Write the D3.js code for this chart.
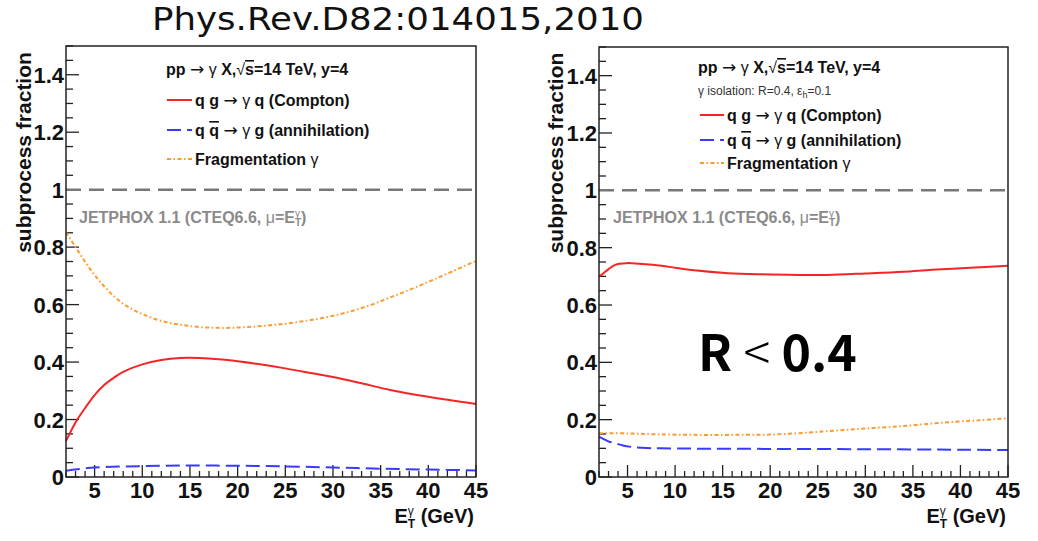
<!DOCTYPE html>
<html>
<head>
<meta charset="utf-8">
<script src="https://cdn.jsdelivr.net/npm/d3@7"></script>
<style>
  body { margin: 0; background: #fff; }
  svg text { white-space: pre; }
</style>
</head>
<body>
<svg id="chart" width="1038" height="541"></svg>
<script>
// ---- data ----
const yTickValues = [0, 0.2, 0.4, 0.6, 0.8, 1, 1.2, 1.4]
const yTickLabels = ["0", "0.2", "0.4", "0.6", "0.8", "1", "1.2", "1.4"]
const xTickValues = [5, 10, 15, 20, 25, 30, 35, 40, 45]
const xTickLabels = ["5", "10", "15", "20", "25", "30", "35", "40", "45"]

// left panel (no isolation)
const comptonLeftX = [2, 3, 4, 5, 6, 7, 8, 10, 12, 14, 16, 18, 20, 22, 25, 28, 30, 33, 36, 40, 45]
const comptonLeftY = [0.125, 0.19, 0.24, 0.285, 0.32, 0.345, 0.366, 0.392, 0.407, 0.414, 0.414, 0.41, 0.403, 0.394, 0.378, 0.36, 0.348, 0.326, 0.303, 0.279, 0.254]
const annihLeftX = [2, 5, 10, 15, 20, 25, 30, 35, 40, 45]
const annihLeftY = [0.022, 0.033, 0.038, 0.040, 0.039, 0.037, 0.033, 0.029, 0.026, 0.023]
const fragLeftX = [2, 3, 4, 5, 6, 7, 8, 9, 10, 12, 14, 16, 18, 20, 22, 24, 26, 28, 30, 32, 34, 36, 38, 40, 42, 45]
const fragLeftY = [0.852, 0.80, 0.749, 0.703, 0.664, 0.63, 0.603, 0.583, 0.567, 0.543, 0.53, 0.522, 0.519, 0.52, 0.524, 0.53, 0.538, 0.548, 0.561, 0.578, 0.599, 0.625, 0.651, 0.679, 0.708, 0.752]

// right panel (R = 0.4 isolation)
const comptonRightX = [2, 2.3, 3, 3.7, 4.5, 5.4, 7, 8.6, 10, 12, 15.6, 19, 23, 26, 30, 34, 37, 41, 45]
const comptonRightY = [0.70, 0.706, 0.725, 0.74, 0.745, 0.746, 0.742, 0.737, 0.73, 0.721, 0.711, 0.707, 0.705, 0.705, 0.710, 0.716, 0.723, 0.73, 0.737]
const annihRightX = [2, 2.5, 3, 3.7, 4.5, 5.4, 7, 8.6, 12, 20, 30, 40, 45]
const annihRightY = [0.141, 0.132, 0.124, 0.118, 0.11, 0.105, 0.101, 0.10, 0.099, 0.098, 0.097, 0.095, 0.094]
const fragRightX = [2, 5, 8, 12, 16, 20, 24, 27, 30, 34, 38, 42, 45]
const fragRightY = [0.153, 0.152, 0.149, 0.147, 0.147, 0.148, 0.155, 0.162, 0.169, 0.178, 0.189, 0.198, 0.205]

const zip = (xs, ys) => xs.map((x, i) => ({x, y: ys[i]}))

const styles = {
  compton: {color: "#f52525", dash: null},
  annih: {color: "#3a3aff", dash: "14 6"},
  frag: {color: "#ff9a2e", dash: "4 2.5 1.5 2.5"}
}

const font = "'Liberation Sans', Arial, Helvetica, sans-serif"
const arrow = {t: "\u2192", thin: true, family: "'DejaVu Sans'", size: 17}

const panels = [
  {
    margin: {left: 66, right: 476, top: 46, bottom: 477},
    series: [
      {key: "compton", values: zip(comptonLeftX, comptonLeftY)},
      {key: "annih", values: zip(annihLeftX, annihLeftY)},
      {key: "frag", values: zip(fragLeftX, fragLeftY)}
    ],
    titleX: 166, titleY: 75,
    isolation: false,
    legendRows: [100, 130, 159],
    legendLine: [167, 192], legendTextX: 195,
    jetX: 79, yTitleX: 31
  },
  {
    margin: {left: 599, right: 1008, top: 47, bottom: 477},
    series: [
      {key: "compton", values: zip(comptonRightX, comptonRightY)},
      {key: "annih", values: zip(annihRightX, annihRightY)},
      {key: "frag", values: zip(fragRightX, fragRightY)}
    ],
    titleX: 698, titleY: 73,
    isolation: true,
    legendRows: [115, 140, 163],
    legendLine: [700, 724], legendTextX: 727,
    jetX: 613, yTitleX: 563
  }
]

const svg = d3.select("#chart")

// text with mixed weights / sub- and superscripts
function rich (sel, x, y, parts) {
  const t = sel.append("text").attr("x", x).attr("y", y)
  let shift = 0
  parts.forEach(p => {
    const o = typeof p === "string" ? {t: p} : p
    const rise = o.rise || 0
    const ts = t.append("tspan").text(o.t).attr("dy", rise - shift)
    shift = rise
    if (o.dx) ts.attr("dx", o.dx)
    if (o.size) ts.attr("font-size", o.size)
    if (o.thin) ts.attr("font-weight", "normal")
    if (o.family) ts.attr("font-family", o.family)
    if (o.over) ts.style("text-decoration", "overline")
  })
  return t
}

function drawPanel (cfg) {
  const m = cfg.margin
  const x = d3.scaleLinear().domain([2, 45]).range([m.left, m.right])
  const y = d3.scaleLinear().domain([0, 1.5]).range([m.bottom, m.top])
  const g = svg.append("g")

  // ticks inside the frame
  const yMinor = d3.range(0, 1.5001, 0.05).filter(v => Math.abs(v / 0.2 - Math.round(v / 0.2)) > 1e-6)
  const xMinor = d3.range(2, 46, 1).filter(v => v % 5 !== 0)
  const tickG = g.append("g").attr("stroke", "#222").attr("stroke-width", 1.3)
  tickG.selectAll(".ymaj").data(yTickValues).enter().append("line")
    .attr("x1", m.left).attr("x2", m.left + 13)
    .attr("y1", d => y(d)).attr("y2", d => y(d))
  tickG.selectAll(".ymin").data(yMinor).enter().append("line")
    .attr("x1", m.left).attr("x2", m.left + 7)
    .attr("y1", d => y(d)).attr("y2", d => y(d))
  tickG.selectAll(".xmaj").data(xTickValues).enter().append("line")
    .attr("x1", d => x(d)).attr("x2", d => x(d))
    .attr("y1", m.bottom).attr("y2", m.bottom - 12)
  tickG.selectAll(".xmin").data(xMinor).enter().append("line")
    .attr("x1", d => x(d)).attr("x2", d => x(d))
    .attr("y1", m.bottom).attr("y2", m.bottom - 6)

  // tick labels
  g.selectAll(".ylab").data(yTickValues).enter().append("text")
    .attr("x", m.left - 2).attr("y", d => y(d) + 8)
    .attr("text-anchor", "end")
    .style("font", `bold 22px ${font}`).attr("fill", "#111")
    .text((d, i) => yTickLabels[i])
  g.selectAll(".xlab").data(xTickValues).enter().append("text")
    .attr("x", d => x(d)).attr("y", m.bottom + 21)
    .attr("text-anchor", "middle")
    .style("font", `bold 22px ${font}`).attr("fill", "#111")
    .text((d, i) => xTickLabels[i])

  // reference line at 1
  g.append("line")
    .attr("x1", m.left).attr("x2", m.right)
    .attr("y1", y(1)).attr("y2", y(1))
    .attr("stroke", "#777").attr("stroke-width", 2.5)
    .attr("stroke-dasharray", "15 8")

  // curves
  const line = d3.line().x(d => x(d.x)).y(d => y(d.y)).curve(d3.curveCatmullRom)
  g.selectAll(".mark").data(cfg.series).enter().append("path")
    .attr("class", "mark")
    .attr("d", d => line(d.values))
    .attr("fill", "none")
    .attr("stroke", d => styles[d.key].color)
    .attr("stroke-width", 2)
    .attr("stroke-dasharray", d => styles[d.key].dash)

  // frame
  g.append("rect")
    .attr("x", m.left).attr("y", m.top)
    .attr("width", m.right - m.left).attr("height", m.bottom - m.top)
    .attr("fill", "none").attr("stroke", "#222").attr("stroke-width", 1.5)

  // legend
  const leg = g.append("g").style("font", `bold 16px ${font}`).attr("fill", "#111")
  rich(leg, cfg.titleX, cfg.titleY, ["pp ", arrow, {t: " \u03b3", thin: true}, " X,", {t: "\u221a", thin: true}, {t: "s", over: true}, "=14 TeV, y=4"])
  if (cfg.isolation) {
    rich(leg, cfg.titleX, 95, [{t: "\u03b3 isolation: R=0.4, \u03b5", thin: true}, {t: "h", thin: true, rise: 3, size: 9}, {t: "=0.1", thin: true, rise: 0}])
      .attr("font-size", 12).attr("fill", "#333")
  }
  const rows = [
    {key: "compton", parts: ["q g ", arrow, {t: " \u03b3", thin: true}, " q (Compton)"]},
    {key: "annih", parts: ["q ", {t: "q", over: true}, " ", arrow, {t: " \u03b3", thin: true}, " g (annihilation)"]},
    {key: "frag", parts: ["Fragmentation ", {t: "\u03b3", thin: true}]}
  ]
  rows.forEach((r, i) => {
    const ly = cfg.legendRows[i]
    leg.append("line")
      .attr("x1", cfg.legendLine[0]).attr("x2", cfg.legendLine[1])
      .attr("y1", ly).attr("y2", ly)
      .attr("stroke", styles[r.key].color).attr("stroke-width", 2)
      .attr("stroke-dasharray", styles[r.key].dash)
    rich(leg, cfg.legendTextX, ly + 6, r.parts)
  })

  // generator label
  rich(g, cfg.jetX, 223, ["JETPHOX 1.1 (CTEQ6.6, ", {t: "\u03bc", thin: true}, "=E", {t: "\u03b3", thin: true, rise: -6, size: 10}, {t: "T", rise: 3, dx: -5, size: 10}, {t: ")", rise: 0}])
    .style("font", `bold 16px ${font}`).attr("fill", "#8a8a8a")

  // axis titles
  g.append("text")
    .attr("transform", `translate(${cfg.yTitleX},${(m.top + 257) / 2 + 1}) rotate(-90)`)
    .attr("text-anchor", "middle")
    .style("font", `bold 21px ${font}`).attr("fill", "#111")
    .text("subprocess fraction")
  rich(g, m.right - 2, 523, ["E", {t: "\u03b3", thin: true, rise: -8, size: 12}, {t: "T", rise: 5, dx: -6, size: 12}, {t: " (GeV)", rise: 0}])
    .attr("text-anchor", "end")
    .style("font", `bold 20px ${font}`).attr("fill", "#111")
}

panels.forEach(drawPanel)

svg.append("text")
  .attr("x", 152).attr("y", 30)
  .attr("textLength", 492).attr("lengthAdjust", "spacingAndGlyphs")
  .style("font", "32px 'DejaVu Sans', 'Noto Sans', sans-serif").attr("fill", "#111")
  .text("Phys.Rev.D82:014015,2010")

const big = svg.append("text")
  .attr("x", 698).attr("y", 371)
  .style("font", "bold 50px 'Noto Sans CJK JP', 'Noto Sans', sans-serif").attr("fill", "#000")
big.append("tspan").text("R ")
big.append("tspan").attr("font-weight", 300).text("<")
big.append("tspan").text(" 0.4")
</script>
</body>
</html>
